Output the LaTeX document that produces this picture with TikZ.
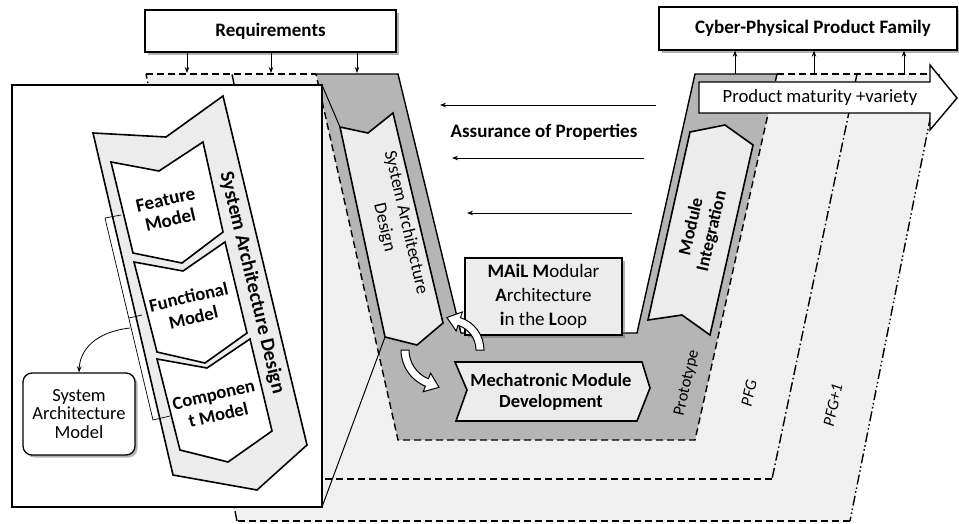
\documentclass[tikz,border=0pt]{standalone}
\usepackage{fontspec}
\setmainfont{Carlito}
\usetikzlibrary{arrows.meta,shadows,calc}
\definecolor{darkg}{RGB}{181,181,181}
\definecolor{band}{RGB}{240,240,240}
\definecolor{panel}{RGB}{236,236,236}
\begin{document}
\begin{tikzpicture}[x=1pt,y=-1pt,
  bl/.style={font=\fontsize{19}{22}\selectfont\bfseries, align=center, inner sep=0pt},
  rl/.style={font=\fontsize{19}{22}\selectfont, align=center, inner sep=0pt},
  boxshadow/.style={drop shadow={shadow xshift=2.5pt, shadow yshift=-2.5pt, fill=black!60, opacity=.5}},
  topbox/.style={draw, line width=1.3pt, fill=white, boxshadow, minimum width=#1, minimum height=42pt, inner sep=0pt},
  panelshape/.style={draw, line width=1.6pt, fill=panel, line join=miter},
  whiteshape/.style={draw, line width=1.6pt, fill=white},
  tip/.style={-{Stealth[length=6pt,width=4.5pt]}, line width=0.8pt},
  edge/.style={line width=1.4pt},
  dsh/.style={dash pattern=on 7pt off 4pt},
  ddot/.style={dash pattern=on 10pt off 3pt on 1.5pt off 3pt},
  dddot/.style={dash pattern=on 10pt off 3pt on 1.5pt off 2.5pt on 1.5pt off 3pt},
  fatarrow/.style={draw, fill=white, line width=1pt},
]
\useasboundingbox (0,0) rectangle (959,523);
% ---------- bands ----------
\fill[band] (146,74) -- (939,74) -- (850,521) -- (237,521) -- cycle;
\fill[white] (398,74) -- (461,333) -- (637,333) -- (695,74) -- cycle;
\fill[darkg] (316,74) -- (398,74) -- (461,333) -- (637,333) -- (695,74) -- (777,74) -- (695,440) -- (398,440) -- cycle;
\draw[edge] (316,74) -- (398,74) -- (461,333) -- (637,333) -- (695,74) -- (777,74);
\draw[edge, dsh] (777,74) -- (695,440) -- (398,440) -- (316,74);
% PFG band
\draw[edge, ddot] (857,74) -- (772,479);
\draw[edge, dsh] (772,479) -- (313,479);
\draw[edge, ddot] (313,479) -- (232,74);
% PFG+1 band
\draw[edge, dddot] (939,74) -- (850,521);
\draw[edge, dsh] (850,521) -- (237,521);
\draw[edge, dddot] (237,521) -- (146,74);
\draw[edge, dsh] (146,74) -- (316,74);
\draw[edge, dsh] (777,74) -- (939,74);
% ---------- top boxes ----------
\node[topbox=251pt, bl] (req) at (270.5,31) {Requirements};
\node[topbox=298pt, minimum height=43pt, bl] (cpf) at (808,28.5) {\hspace*{10pt}Cyber-Physical Product Family};
\foreach \x/\n in {187/a,271/b,357/c} {
  \coordinate (rq\n) at (\x,73);
  \draw[tip] (req.south -| rq\n) -- (rq\n);
}
\foreach \x/\n in {735/a,814/b,904/c} {
  \coordinate (cp\n) at (\x,74);
  \draw[tip] (cp\n) -- (cpf.south -| cp\n);
}
% ---------- product maturity arrow ----------
\draw[line width=1.4pt, fill=white, line join=miter] (699,82) -- (930,82) -- (930,65) -- (957,98) -- (930,130) -- (930,113) -- (699,113) -- cycle;
\node[rl, font=\fontsize{18.7}{22}\selectfont] (pmv) at (820,97.5) {Product maturity +variety};
% ---------- assurance arrows ----------
\coordinate (a1s) at (656,105); \coordinate (a1e) at (440,105);
\coordinate (a2s) at (644,158); \coordinate (a2e) at (452,158);
\coordinate (a3s) at (632,213); \coordinate (a3e) at (467,213);
\draw[tip] (a1s) -- (a1e);
\draw[tip] (a2s) -- (a2e);
\draw[tip] (a3s) -- (a3e);
\node[bl] (aop) at (544,132) {Assurance of Properties};
% ---------- zoom box ----------
\draw[line width=1.3pt, fill=white] (12,85) rectangle (322,507);
\draw[line width=1pt] (322,85) -- (340,127);
\draw[line width=1pt] (322,507) -- (385,337);
% ---------- arm panels ----------
\draw[panelshape] (340,127) -- (368,133) -- (393,113) -- (443,323) -- (417,345) -- (385,337) -- cycle;
\node[rl, rotate=-77, font=\fontsize{18}{22}\selectfont] (sad) at (395,225) {System Architecture\\Design};
\draw[panelshape] (690,132) -- (725,125) -- (753,145) -- (710,335) -- (682,315) -- (648,320) -- cycle;
\node[bl, rotate=77, font=\fontsize{18}{21}\selectfont\bfseries] (mi) at (702,229) {Module\\Integration};
% ---------- MAiL box ----------
\node[draw, line width=1.6pt, fill=panel, boxshadow, minimum width=157pt, minimum height=77pt, inner sep=0pt, align=center, font=\fontsize{19}{24}\selectfont] (mail) at (543.5,296.5) {\textbf{MAiL M}odular\\\textbf{A}rchitecture\\\textbf{i}n the \textbf{L}oop};
% ---------- mechatronic ----------
\draw[panelshape] (455,362) -- (642,362) -- (650,388) -- (637,421) -- (456,421) -- (467,390) -- cycle;
\node[bl, font=\fontsize{18.5}{21}\selectfont\bfseries] (mmd) at (551,392) {Mechatronic Module\\Development};
% ---------- fat arrows ----------
\coordinate (c1) at (440,350);
\draw[fatarrow] ($(c1)+(180:39)$) arc[start angle=180,end angle=112,radius=39] -- ($(c1)+(112:45)$) -- (439,387.3) -- ($(c1)+(112:25)$) -- ($(c1)+(112:31)$) arc[start angle=112,end angle=180,radius=31] -- cycle;
\coordinate (c2) at (450,350);
\draw[fatarrow] ($(c2)+(0:34)$) arc[start angle=0,end angle=-72,radius=34] -- ($(c2)+(-72:40)$) -- (446.9,317.5) -- ($(c2)+(-72:20)$) -- ($(c2)+(-72:26)$) arc[start angle=-72,end angle=0,radius=26] -- cycle;
% ---------- band labels ----------
\node[rl, rotate=77, font=\fontsize{16.5}{18}\selectfont] (proto) at (687,383) {Prototype};
\node[rl, rotate=78, font=\fontsize{16.5}{18}\selectfont\itshape] (pfg) at (749,393) {PFG};
\node[rl, rotate=78, font=\fontsize{16.5}{18}\selectfont\itshape] (pfg1) at (833,405) {PFG+1};
% ---------- zoomed panel ----------
\draw[panelshape] (93,133) -- (166,137) -- (223,96) -- (307,445) -- (257,490) -- (173,475) -- cycle;
\draw[whiteshape] (111,162) -- (159,171) -- (203,142) -- (223,232) -- (182,263) -- (133,253) -- cycle;
\draw[whiteshape] (134,262) -- (183,271) -- (225,242) -- (247,333) -- (205,363) -- (157,352) -- cycle;
\draw[whiteshape] (157,359) -- (207,368) -- (250,339) -- (272,431) -- (228,462) -- (180,450) -- cycle;
\node[bl, rotate=13, font=\fontsize{19}{21}\selectfont\bfseries] (fm) at (168,210) {Feature\\Model};
\node[bl, rotate=13, font=\fontsize{18.5}{21}\selectfont\bfseries] (fn) at (191,307) {Functional\\Model};
\node[bl, rotate=13, font=\fontsize{18.5}{21}\selectfont\bfseries] (cm) at (216,405) {Componen\\t Model};
\node[bl, rotate=-76.5, font=\fontsize{20}{22}\selectfont\bfseries] (sadz) at (252,283) {System Architecture Design};
% bracket
\draw[line width=0.7pt] (121,215) -- (105,218) -- (153,420) -- (170,416);
\draw[line width=0.7pt] (129,318) -- (142,315);
% system architecture model
\node[draw, line width=1.3pt, rounded corners=9pt, fill=white, boxshadow, minimum width=112pt, minimum height=82pt, inner sep=0pt, align=center, font=\fontsize{18.5}{18.5}\selectfont] (sam) at (79,414) {System\\Architecture\\Model};
\coordinate (br) at (130,328);
\draw[tip] (br) .. controls (95,332) and (80,350) .. (sam.north -| 79,0);
\end{tikzpicture}
\end{document}
